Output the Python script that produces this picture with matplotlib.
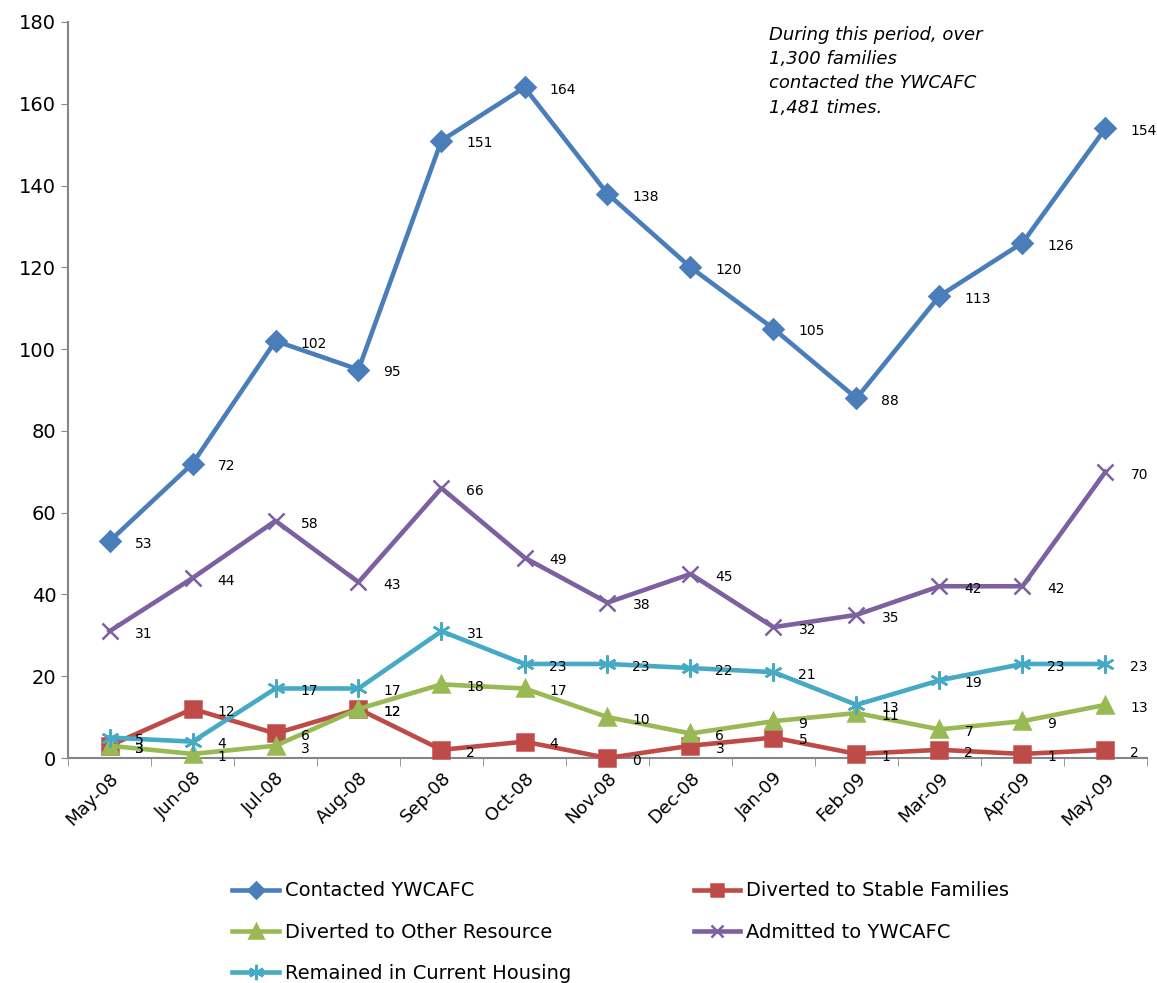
import matplotlib
matplotlib.use("Agg")
import matplotlib.pyplot as plt

months = ["May-08", "Jun-08", "Jul-08", "Aug-08", "Sep-08", "Oct-08", "Nov-08",
          "Dec-08", "Jan-09", "Feb-09", "Mar-09", "Apr-09", "May-09"]
contacted = [53, 72, 102, 95, 151, 164, 138, 120, 105, 88, 113, 126, 154]
stable = [3, 12, 6, 12, 2, 4, 0, 3, 5, 1, 2, 1, 2]
other = [3, 1, 3, 12, 18, 17, 10, 6, 9, 11, 7, 9, 13]
admitted = [31, 44, 58, 43, 66, 49, 38, 45, 32, 35, 42, 42, 70]
remained = [5, 4, 17, 17, 31, 23, 23, 22, 21, 13, 19, 23, 23]

series = [
    ("Contacted YWCAFC", contacted, "#4A7EBB", "D", 10),
    ("Diverted to Stable Families", stable, "#BE4B48", "s", 11),
    ("Diverted to Other Resource", other, "#98B954", "^", 12),
    ("Admitted to YWCAFC", admitted, "#7D60A0", "x", 11),
    ("Remained in Current Housing", remained, "#46AAC5", (6, 2, 0), 13),
]

fig = plt.figure(figsize=(11.57, 9.83), dpi=100)
ax = fig.add_axes([68/1157, 225/983, (1147-68)/1157, (758-22)/983])

x = list(range(len(months)))
handles = []
for name, vals, col, mk, ms in series:
    ln, = ax.plot(x, vals, color=col, lw=3.3, marker=mk, markersize=ms,
                  markeredgecolor=col, markerfacecolor=col, markeredgewidth=1.8,
                  label=name, clip_on=False, zorder=3)
    handles.append(ln)
    for xi, v in zip(x, vals):
        ax.annotate(str(v), (xi, v), xytext=(18, -2), textcoords="offset points",
                    ha="left", va="center", fontsize=10, color="black", zorder=5)

ax.set_xlim(-0.5, 12.5)
ax.set_ylim(0, 180)
ax.set_yticks(range(0, 181, 20))
ax.set_xticks(x)
ax.set_xticklabels(months, rotation=45, ha="right", rotation_mode="anchor", fontsize=13)
ax.tick_params(axis="x", length=0, pad=8)
ax.set_xticks([i - 0.5 for i in range(14)], minor=True)
ax.tick_params(axis="x", which="minor", length=6, color="#868686", direction="out")
ax.tick_params(axis="y", labelsize=14, length=5, color="#868686", direction="out")
for s in ["top", "right"]:
    ax.spines[s].set_visible(False)
for s in ["left", "bottom"]:
    ax.spines[s].set_color("#868686")
    ax.spines[s].set_linewidth(1.5)

ax.text(0.65, 0.995, "During this period, over\n1,300 families\ncontacted the YWCAFC\n1,481 times.",
        transform=ax.transAxes, ha="left", va="top", fontsize=13, style="italic",
        linespacing=1.45)

# Row-wise order in a 2-column legend: column 1 then column 2
order = [handles[0], handles[2], handles[4], handles[1], handles[3]]
leg = fig.legend(handles=order, labels=[h.get_label() for h in order],
                 loc="upper left", bbox_to_anchor=(215/1157, 1 - 864/983), ncol=2,
                 frameon=False, fontsize=14, handlelength=2.4, columnspacing=6.3,
                 labelspacing=1.15, handletextpad=0.3, markerscale=0.85)

fig.savefig("out.png", dpi=100)
